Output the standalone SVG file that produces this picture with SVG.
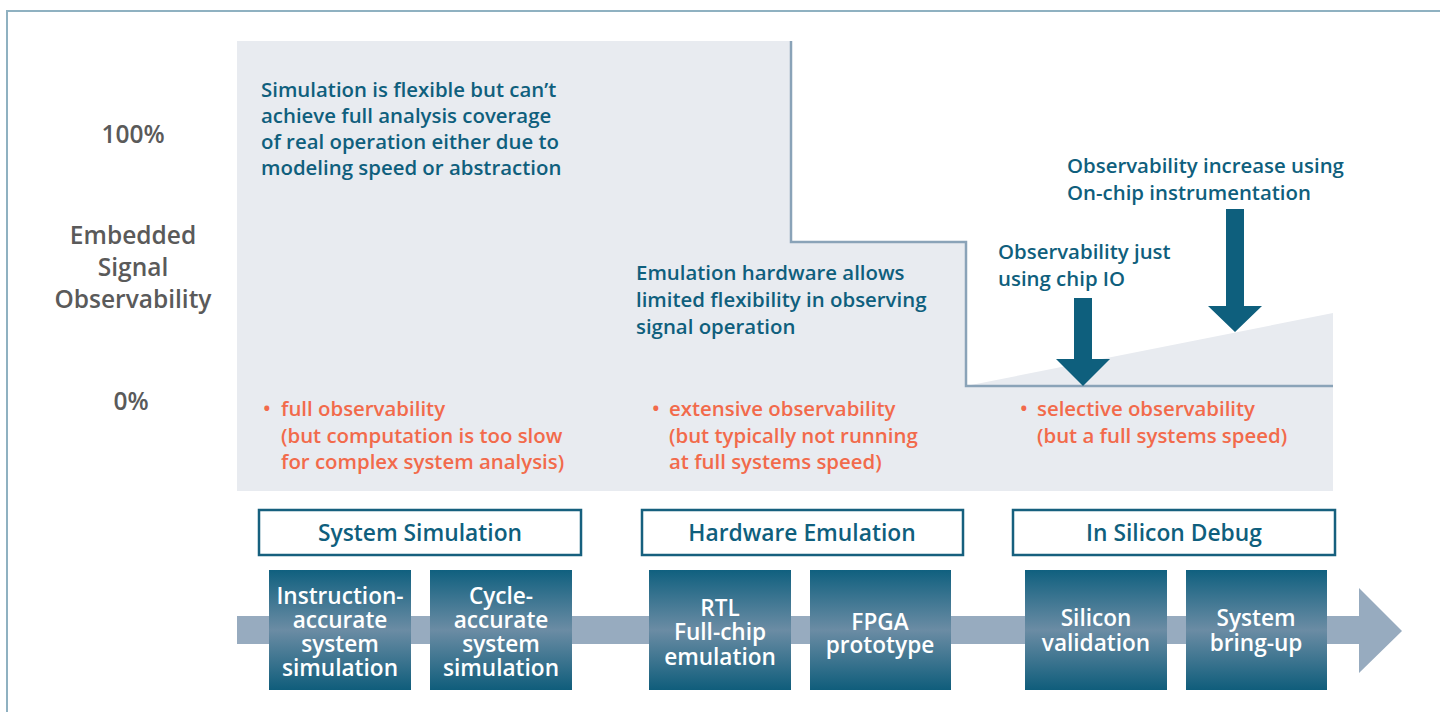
<svg xmlns="http://www.w3.org/2000/svg" width="1440" height="712" viewBox="0 0 1440 712">
  <defs>
    <linearGradient id="boxFill" x1="0" y1="0" x2="0" y2="1">
      <stop offset="0" stop-color="#10607f"/>
      <stop offset="0.5" stop-color="#6b8ca4"/>
      <stop offset="1" stop-color="#0f5d7b"/>
    </linearGradient>
    <style>
      .t { font-family: "Open Sans", "Liberation Sans", sans-serif; font-weight: 600; }
      .note { fill: #0f5f7d; font-size: 20.4px; }
      .bul { fill: #f26a4b; font-size: 20.4px; }
      .axis { fill: #5a5a5a; font-size: 24.5px; text-anchor: middle; }
      .hdr { fill: #0f5f7d; font-size: 22.8px; text-anchor: middle; }
      .lbl { fill: #ffffff; font-size: 22.6px; text-anchor: middle; }
      .hbox { fill: #ffffff; stroke: #16607e; stroke-width: 2.5; }
      .pbox { fill: url(#boxFill); }
      .down { fill: #0e5f7d; }
    </style>
  </defs>

  <rect width="1440" height="712" fill="#ffffff"/>

  <!-- outer frame (top and left edges) -->
  <path d="M7 712 V11 H1440" fill="none" stroke="#8fb1c1" stroke-width="2"/>

  <!-- observability field -->
  <rect x="237" y="41" width="1096" height="450" fill="#e8ebf0"/>
  <!-- white region above the stepped limit -->
  <path d="M791 41 H1333 V386 H966 V242 H791 Z" fill="#ffffff"/>
  <!-- rising on-chip instrumentation wedge -->
  <path d="M966 386 L1333 313 V386 Z" fill="#e8ebf0"/>
  <!-- stepped observability limit -->
  <path d="M791 41 V242 H966 V386 H1333" fill="none" stroke="#8aa3b8" stroke-width="2.5"/>

  <!-- axis labels -->
  <g id="axis">
    <text class="t axis" x="133" y="143">100%</text>
    <text class="t axis" x="133" y="244">Embedded</text>
    <text class="t axis" x="133" y="276">Signal</text>
    <text class="t axis" x="133" y="308">Observability</text>
    <text class="t axis" x="131" y="410">0%</text>
  </g>

  <!-- annotations -->
  <g id="note-simulation">
    <text class="t note" x="261" y="97">Simulation is flexible but can’t</text>
    <text class="t note" x="261" y="123">achieve full analysis coverage</text>
    <text class="t note" x="261" y="149">of real operation either due to</text>
    <text class="t note" x="261" y="175">modeling speed or abstraction</text>
  </g>
  <g id="note-emulation">
    <text class="t note" x="636" y="280">Emulation hardware allows</text>
    <text class="t note" x="636" y="307">limited flexibility in observing</text>
    <text class="t note" x="636" y="334">signal operation</text>
  </g>
  <g id="note-onchip">
    <text class="t note" x="1067" y="173">Observability increase using</text>
    <text class="t note" x="1067" y="200">On-chip instrumentation</text>
  </g>
  <g id="note-chipio">
    <text class="t note" x="998" y="259">Observability just</text>
    <text class="t note" x="998" y="286">using chip IO</text>
  </g>

  <g id="bullet-simulation">
    <text class="t bul" x="263" y="416">•<tspan x="281">full observability</tspan></text>
    <text class="t bul" x="281" y="443">(but computation is too slow</text>
    <text class="t bul" x="281" y="469">for complex system analysis)</text>
  </g>
  <g id="bullet-emulation">
    <text class="t bul" x="652" y="416">•<tspan x="669">extensive observability</tspan></text>
    <text class="t bul" x="669" y="443">(but typically not running</text>
    <text class="t bul" x="669" y="469">at full systems speed)</text>
  </g>
  <g id="bullet-silicon">
    <text class="t bul" x="1020" y="416">•<tspan x="1037">selective observability</tspan></text>
    <text class="t bul" x="1037" y="443">(but a full systems speed)</text>
  </g>

  <!-- connectors: flow arrow and observability arrows -->
  <g id="connectors">
    <path d="M237 616 H1359 V588 L1402 631 L1359 673 V644 H237 Z" fill="#97abbf"/>
    <path class="down" d="M1074 298 H1092 V359 H1110 L1083 386 L1056 359 H1074 Z"/>
    <path class="down" d="M1226 209 H1244 V306 H1262 L1235 332 L1208 306 H1226 Z"/>
  </g>

  <!-- phase headers -->
  <g id="hdr-simulation">
    <rect class="hbox" x="259" y="510" width="322" height="45"/>
    <text class="t hdr" x="420" y="541">System Simulation</text>
  </g>
  <g id="hdr-emulation">
    <rect class="hbox" x="642" y="510" width="321" height="45"/>
    <text class="t hdr" x="802" y="541">Hardware Emulation</text>
  </g>
  <g id="hdr-silicon">
    <rect class="hbox" x="1013" y="510" width="322" height="45"/>
    <text class="t hdr" x="1174" y="541">In Silicon Debug</text>
  </g>

  <!-- process steps -->
  <g id="step-instruction">
    <rect class="pbox" x="269" y="570" width="142" height="120"/>
    <text class="t lbl" x="340" y="604">Instruction-</text>
    <text class="t lbl" x="340" y="628">accurate</text>
    <text class="t lbl" x="340" y="652">system</text>
    <text class="t lbl" x="340" y="676">simulation</text>
  </g>
  <g id="step-cycle">
    <rect class="pbox" x="430" y="570" width="142" height="120"/>
    <text class="t lbl" x="501" y="604">Cycle-</text>
    <text class="t lbl" x="501" y="628">accurate</text>
    <text class="t lbl" x="501" y="652">system</text>
    <text class="t lbl" x="501" y="676">simulation</text>
  </g>
  <g id="step-rtl">
    <rect class="pbox" x="649" y="570" width="142" height="120"/>
    <text class="t lbl" x="720" y="616">RTL</text>
    <text class="t lbl" x="720" y="640">Full-chip</text>
    <text class="t lbl" x="720" y="665">emulation</text>
  </g>
  <g id="step-fpga">
    <rect class="pbox" x="810" y="570" width="141" height="120"/>
    <text class="t lbl" x="880" y="630">FPGA</text>
    <text class="t lbl" x="880" y="653">prototype</text>
  </g>
  <g id="step-silicon">
    <rect class="pbox" x="1025" y="570" width="142" height="120"/>
    <text class="t lbl" x="1096" y="626">Silicon</text>
    <text class="t lbl" x="1096" y="651">validation</text>
  </g>
  <g id="step-bringup">
    <rect class="pbox" x="1186" y="570" width="141" height="120"/>
    <text class="t lbl" x="1256" y="626">System</text>
    <text class="t lbl" x="1256" y="651">bring-up</text>
  </g>
</svg>
